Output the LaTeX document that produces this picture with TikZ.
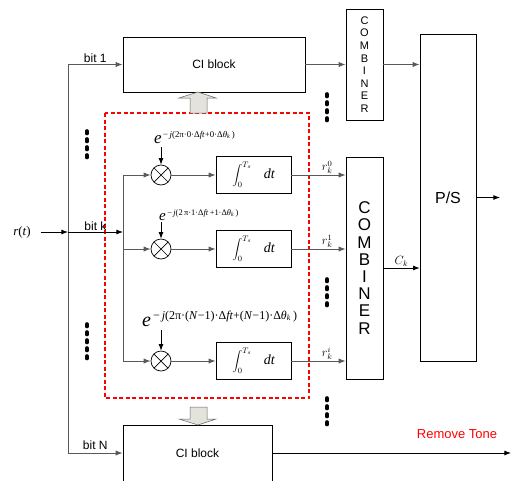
\documentclass[tikz,border=0pt]{standalone}
\usepackage{fontspec}
\setmainfont{Liberation Sans}
\newfontfamily\tms{Liberation Serif}
\usetikzlibrary{arrows.meta,positioning}

\begin{document}
\begin{tikzpicture}[
  x=1pt,y=-1pt,>=Latex,
  wire/.style={draw=black!65,line width=0.9pt},
  blk/.style={draw=black,line width=0.7pt,inner sep=0pt,align=center},
  mult/.style={draw=black,circle,line width=0.7pt,minimum size=20pt,inner sep=0pt,
    path picture={\draw[line width=0.7pt] (path picture bounding box.north west) -- (path picture bounding box.south east)
      (path picture bounding box.north east) -- (path picture bounding box.south west);}},
  integ/.style={blk,minimum width=75pt,minimum height=37pt,font=\fontsize{12}{14}\selectfont},
  lab/.style={font=\fontsize{12}{14}\selectfont,inner sep=1pt},
  mlab/.style={font=\tms\itshape\fontsize{13}{15}\selectfont,inner sep=1pt},
  rlab/.style={font=\fontsize{12}{14}\selectfont,inner sep=1pt,pos=0.66},
  expo/.style={anchor=base west,inner sep=0pt,font=\tms},
  vdots/.style={line width=3.6pt,line cap=round,dash pattern=on 2.5pt off 5.5pt},
  garrow/.style={fill=olive!12!gray!25,draw=black!60,line width=0.5pt}
]
\useasboundingbox (0,0) rectangle (511,480);
% blocks
\node[blk,minimum width=182pt,minimum height=55pt,font=\fontsize{12}{14}\selectfont] (ci1) at (214,64.5) {CI block};
\node[blk,minimum width=149pt,minimum height=56pt,font=\fontsize{12}{14}\selectfont] (ciN) at (197.5,453) {CI block};
\node[blk,minimum width=37pt,minimum height=111pt,font=\fontsize{11}{12.6}\selectfont] (comb1) at (364.5,64.5) {C\\O\\M\\B\\I\\N\\E\\R};
\node[blk,minimum width=37pt,minimum height=222pt,font=\fontsize{17}{17.2}\selectfont] (comb) at (364.5,268) {C\\O\\M\\B\\I\\N\\E\\R};
\node[blk,minimum width=56pt,minimum height=327pt,font=\fontsize{16}{18}\selectfont] (ps) at (448,197.5) {P/S};
% correlator branches
\node[mult] (m0) at (161,175) {};
\node[mult] (m1) at (161,249) {};
\node[mult] (mi) at (161,361) {};
\node[integ] (i0) at (253.5,175) {$\displaystyle\int_0^{T_s}$\hspace{12pt}{\tms\itshape\fontsize{14}{16}\selectfont dt}};
\node[integ] (i1) at (253.5,249) {$\displaystyle\int_0^{T_s}$\hspace{12pt}{\tms\itshape\fontsize{14}{16}\selectfont dt}};
\node[integ] (ii) at (253.5,361) {$\displaystyle\int_0^{T_s}$\hspace{12pt}{\tms\itshape\fontsize{14}{16}\selectfont dt}};
\node[expo] (e0) at (154,143) {\fontsize{17}{18}\selectfont\itshape e\raisebox{6pt}{\fontsize{8.8}{10}\selectfont\upshape\,−\,\textit{j}(2π·0·Δ\textit{ft}+0·Δ\textit{θ}\textsubscript{\textit{k}}\,)}};
\node[expo] (e1) at (159,220) {\fontsize{15}{16}\selectfont\itshape e\raisebox{5pt}{\fontsize{8.4}{10}\selectfont\upshape\,−\,\textit{j}(2\,π·1·Δ\textit{ft}\,+1·Δ\textit{θ}\textsubscript{\textit{k}}\,)}};
\node[expo] (ei) at (142,326) {\fontsize{20}{22}\selectfont\itshape e\raisebox{7pt}{\fontsize{12}{14}\selectfont\upshape\,−\,\textit{j}(2π·(\textit{N}−1)·Δ\textit{ft}+(\textit{N}−1)·Δ\textit{θ}\textsubscript{\textit{k}}\,)}};
% red frame
\draw[red,line width=2.2pt,dash pattern=on 4pt off 2.5pt] (105,113) rectangle (309,398);
% input and bit lines
\node[mlab] (rt) at (22,232) {r\upshape(\itshape t\upshape)};
\coordinate (jk) at (68,232);
\coordinate (j1) at (68,64.5);
\coordinate (jN) at (68,453);
\coordinate (s0) at (123,175);
\coordinate (sk) at (123,232);
\coordinate (s1) at (123,249);
\coordinate (si) at (123,361);
\coordinate (a0) at (161,147);
\coordinate (a1) at (161,222);
\coordinate (ai) at (161,330);
\draw[wire] (j1) -- (jN);
\draw[wire,->] (j1) -- node[above,lab,black] {bit 1} (ci1.west);
\draw[wire,->] (jN) -- node[above,lab,black,yshift=2pt] {bit N} (ciN.west);
\draw[->,line width=0.8pt] (rt.east) ++(9,0) -- (jk);
\draw[->,line width=0.8pt] (jk) -- node[above,lab] {bit k} (sk);
\draw[wire] (s0) -- (si);
\draw[wire,->] (s0) -- (m0);
\draw[wire,->] (s1) -- (m1);
\draw[wire,->] (si) -- (mi);
\draw[wire,->] (m0) -- (i0);
\draw[wire,->] (m1) -- (i1);
\draw[wire,->] (mi) -- (ii);
\draw[->,line width=0.8pt] (a0) -- (m0);
\draw[->,line width=0.8pt] (a1) -- (m1);
\draw[->,line width=0.8pt] (ai) -- (mi);
\draw[wire,->] (i0) -- node[above,rlab] {$r_k^0$} (comb.west |- i0);
\draw[wire,->] (i1) -- node[above,rlab] {$r_k^1$} (comb.west |- i1);
\draw[wire,->] (ii) -- node[above,rlab] {$r_k^i$} (comb.west |- ii);
% outputs
\draw[wire,->] (ci1) -- (comb1);
\draw[wire,->] (comb1) -- (ps.west |- comb1);
\draw[->,line width=0.8pt] (comb) -- node[above,lab] {$C_k$} (ps.west |- comb);
\coordinate (psout) at (500,197.5);
\draw[->,line width=0.8pt] (ps) -- (psout);
\coordinate (tone) at (511,453);
\draw[->,line width=0.8pt] (ciN.east |- jN) -- (tone);
\node[red,font=\fontsize{13}{15}\selectfont] (rm) at (457,434) {Remove Tone};
% gray block arrows
\draw[garrow] (190,113) -- (190,98) -- (179,98) -- (198,92) -- (216,98) -- (207,98) -- (207,113) -- cycle;
\draw[garrow] (190,407) -- (190,419) -- (179,419) -- (198,425) -- (216,419) -- (207,419) -- (207,407) -- cycle;
% dots
\draw[vdots] (87,131) -- (87,158);
\draw[vdots] (87,324) -- (87,360);
\draw[vdots] (327,94) -- (327,121);
\draw[vdots] (327,279) -- (327,307);
\draw[vdots] (327,398) -- (327,425);
\end{tikzpicture}
\end{document}
